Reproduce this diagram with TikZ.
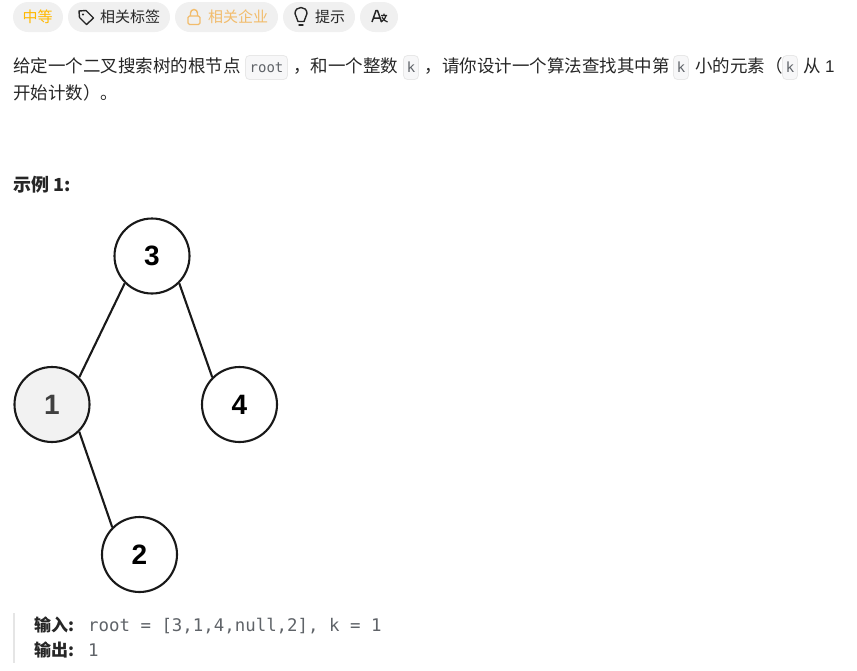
\documentclass[tikz,border=0pt]{standalone}
\usepackage{fontspec}
\setmainfont{Liberation Sans}
\setmonofont{DejaVu Sans Mono}
\newfontfamily\cjk{Noto Sans CJK SC}
\definecolor{pill}{HTML}{F0F0F0}
\definecolor{ink}{HTML}{262626}
\definecolor{amber}{HTML}{FFB800}
\definecolor{lockc}{HTML}{F2BC6B}
\definecolor{codebg}{HTML}{F7F7F8}
\definecolor{codeb}{HTML}{E8E8E8}
\definecolor{codet}{HTML}{5F6368}
\tikzset{
 x=1pt,y=-1pt,
 pillbox/.style={fill=pill,rounded corners=15pt},
 pilltext/.style={inner sep=0,anchor=center,font=\fontsize{15}{15}\cjk},
 para/.style={inner sep=0,anchor=base west,text=ink,font=\fontsize{17.5}{18}\cjk},
 latin/.style={inner sep=0,anchor=base west,text=ink,font=\fontsize{17}{18}\selectfont},
 codebox/.style={draw=codeb,fill=codebg,rounded corners=4pt,line width=.8pt},
 codetxt/.style={inner sep=0,anchor=center,text=codet,font=\fontsize{14}{14}\ttfamily},
 treenode/.style={circle,draw=black!90,line width=2.1pt,fill=white,minimum size=75pt,inner sep=0,font=\fontsize{28}{28}\bfseries},
 edge/.style={draw=black!90,line width=2.1pt},
 icon/.style={draw=ink,line width=1.4pt,line join=round,line cap=round},
}
\begin{document}
\begin{tikzpicture}
\useasboundingbox (0,0) rectangle (857,670);
% pills
\fill[pillbox] (13,2) rectangle (63,32);
\fill[pillbox] (68,2) rectangle (170,32);
\fill[pillbox] (175,2) rectangle (278,32);
\fill[pillbox] (283,2) rectangle (355,32);
\fill[pillbox] (360,2) rectangle (398,32);
\node[pilltext,text=amber] (t1) at (37.5,17) {中等};
\node[pilltext,text=ink] (t2) at (130,17) {相关标签};
\node[pilltext,text=lockc] (t3) at (238,17) {相关企业};
\node[pilltext,text=ink] (t4) at (330,17) {提示};
% tag icon
\draw[icon] (79,11) -- (86,10.5) -- (93.5,18) -- (86.5,24.5) -- (79.5,17.5) -- cycle;
\fill[ink] (83,14.5) circle (1.1pt);
% lock icon
\draw[lockc,line width=1.4pt,rounded corners=1.5pt] (188,16) rectangle (200,24.5);
\draw[lockc,line width=1.4pt] (190.5,16) -- (190.5,13) arc[start angle=180,end angle=0,radius=3.5pt] -- (197.5,16);
% bulb icon
\draw[icon] (298,21.5) .. controls (298,18) and (295,17) .. (295,13.5) .. controls (295,5.5) and (307,5.5) .. (307,13.5) .. controls (307,17) and (304,18) .. (304,21.5) -- cycle;
\draw[icon] (299,25) -- (303,25);
% translate icon
\draw[ink,line width=1.5pt,line join=round] (372,22) -- (376,10.5) -- (377.5,10.5) -- (381.5,22) (373.5,18) -- (380,18);
\draw[ink,line width=1.2pt] (381,15.5) -- (387,15.5) (384,15.5) -- (384,13.5) (386,15.5) .. controls (385,19) and (383.5,20.5) .. (381,22) (382,17) .. controls (383,19.5) and (384.5,21) .. (387.5,22);
% paragraph line 1
\node[para] (p1) at (13,72.5) {给定一个二叉搜索树的根节点};
\draw[codebox] (245.5,55.5) rectangle (287.5,79.5);
\node[codetxt] (c1) at (266.5,67.5) {root};
\node[para] (p2) at (293,72.5) {，和一个整数};
\draw[codebox] (403.5,55.5) rectangle (418.5,79.5);
\node[codetxt] (c2) at (411,67.5) {k};
\node[para] (p3) at (424.5,72.5) {，请你设计一个算法查找其中第};
\draw[codebox] (673.5,55.5) rectangle (688.5,79.5);
\node[codetxt] (c3) at (681,67.5) {k};
\node[para] (p4) at (695,72.5) {小的元素（};
\draw[codebox] (782.5,55.5) rectangle (797.5,79.5);
\node[codetxt] (c4) at (790,67.5) {k};
\node[para] (p5) at (803,72.5) {从};
\node[latin] (p6) at (825,72) {1};
\node[para] (p7) at (13,99) {开始计数）。};
% heading
\node[inner sep=0,anchor=base west,text=ink,font=\fontsize{18}{18}\cjk\bfseries] (h) at (13,191.5) {示例 1:};
% tree
\node[treenode] (n3) at (152,256) {3};
\node[treenode,fill=black!5,text=black!75] (n1) at (52,404.5) {1};
\node[treenode] (n4) at (239.5,404.5) {4};
\node[treenode] (n2) at (139.5,554.5) {2};
\draw[edge] (n3.225) -- (n1.45);
\draw[edge] (n3.-45) -- (n4.135);
\draw[edge] (n1.-45) -- (n2.135);
% example block
\fill[black!10] (13,613) rectangle (15,663);
\node[inner sep=0,anchor=base west,text=ink,font=\fontsize{17}{18}\cjk\bfseries] (i) at (34,631) {输入:};
\node[inner sep=0,anchor=base west,text=codet,font=\fontsize{17.4}{18}\ttfamily] (iv) at (88,631) {root = [3,1,4,null,2], k = 1};
\node[inner sep=0,anchor=base west,text=ink,font=\fontsize{17}{18}\cjk\bfseries] (o) at (34,656) {输出:};
\node[inner sep=0,anchor=base west,text=codet,font=\fontsize{17.4}{18}\ttfamily] (ov) at (88,656) {1};
\end{tikzpicture}
\end{document}
